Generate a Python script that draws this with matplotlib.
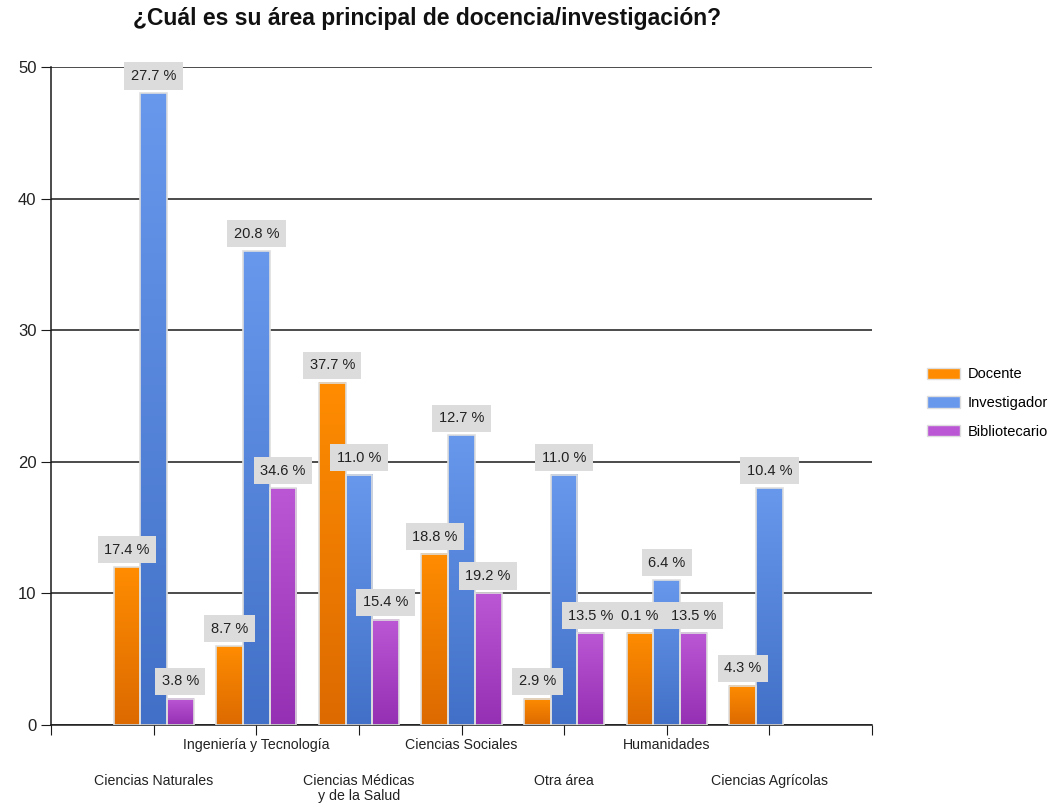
import matplotlib.pyplot as plt
import numpy as np
from matplotlib.colors import LinearSegmentedColormap
from matplotlib.patches import Patch

plt.rcParams['font.family'] = ['Liberation Sans', 'DejaVu Sans']

categories = ['Ciencias Naturales', 'Ingeniería y Tecnología', 'Ciencias Médicas\ny de la Salud',
              'Ciencias Sociales', 'Otra área', 'Humanidades', 'Ciencias Agrícolas']
series = ['Docente', 'Investigador', 'Bibliotecario']
docente = [12, 6, 26, 13, 2, 7, 3]
investigador = [48, 36, 19, 22, 19, 11, 18]
bibliotecario = [2, 18, 8, 10, 7, 7, 0]
docente_pct = ['17.4 %', '8.7 %', '37.7 %', '18.8 %', '2.9 %', '0.1 %', '4.3 %']
investigador_pct = ['27.7 %', '20.8 %', '11.0 %', '12.7 %', '11.0 %', '6.4 %', '10.4 %']
bibliotecario_pct = ['3.8 %', '34.6 %', '15.4 %', '19.2 %', '13.5 %', '13.5 %', '']

values = [docente, investigador, bibliotecario]
pcts = [docente_pct, investigador_pct, bibliotecario_pct]
# (top, bottom) colours of the bar gradients
grads = [('#ff8c00', '#dc6a00'), ('#6798ec', '#4270c8'), ('#bb56d4', '#9530b4')]

fig = plt.figure(figsize=(10.55, 8.07), dpi=100)
ax = fig.add_axes([51 / 1055, 82 / 807, 821 / 1055, 658 / 807])

x = np.arange(1, len(categories) + 1)
w = 0.26
grad = np.linspace(1, 0, 100).reshape(-1, 1)

for i, (vals, labs, (ctop, cbot)) in enumerate(zip(values, pcts, grads)):
    cmap = LinearSegmentedColormap.from_list('g%d' % i, [cbot, ctop])
    bars = ax.bar(x + (i - 1) * w, vals, w, color='none', edgecolor='#dedede',
                  linewidth=1.2, zorder=3)
    for b, lab in zip(bars, labs):
        h = b.get_height()
        if h > 0:
            ax.imshow(grad, cmap=cmap, aspect='auto', zorder=2.5,
                      extent=(b.get_x(), b.get_x() + b.get_width(), 0, h),
                      interpolation='bilinear')
        else:
            b.set_visible(False)
        if lab:
            ax.annotate(lab, (b.get_x() + b.get_width() / 2, h), xytext=(0, 12.5),
                        textcoords='offset points', ha='center', va='center',
                        fontsize=10.5, color='#222222', zorder=5,
                        bbox=dict(boxstyle='square,pad=0.45', fc='#dcdcdc', ec='none'))

ax.set_xlim(0, 8)
ax.set_ylim(0, 50)
ax.set_yticks([0, 10, 20, 30, 40, 50])
ax.yaxis.grid(True, color='#1a1a1a', linewidth=1.1, zorder=0)
ax.set_axisbelow(True)
for s in ['top', 'right']:
    ax.spines[s].set_visible(False)
ax.spines['left'].set_color('#1a1a1a')
ax.spines['bottom'].set_color('#1a1a1a')
ax.spines['left'].set_linewidth(1.1)
ax.spines['bottom'].set_linewidth(1.1)
ax.tick_params(axis='y', labelsize=12, length=7, color='#1a1a1a', labelcolor='#222222')

ax.set_xticks(np.arange(0, 9))
ax.set_xticklabels([])
ax.tick_params(axis='x', length=7, direction='out', color='#1a1a1a')
for k, cat in enumerate(categories):
    yoff = -0.019 if k % 2 else -0.074
    ax.text(x[k], yoff, cat, transform=ax.get_xaxis_transform(), ha='center', va='top',
            fontsize=10.2, color='#222222', linespacing=1.15)

fig.text(427 / 1055, 1 - 18 / 807, '¿Cuál es su área principal de docencia/investigación?',
         ha='center', va='center', fontsize=16.5, fontweight='bold', color='#111111')

handles = [Patch(facecolor=c[0], edgecolor='#dedede') for c in grads]
fig.legend(handles, series, loc='center left', bbox_to_anchor=(915 / 1055, 1 - 403 / 807),
           frameon=False, fontsize=10.5, handlelength=2.3, handleheight=0.8,
           labelspacing=1.0, handletextpad=0.5, borderpad=0.3)

fig.savefig('out.png', dpi=100)
